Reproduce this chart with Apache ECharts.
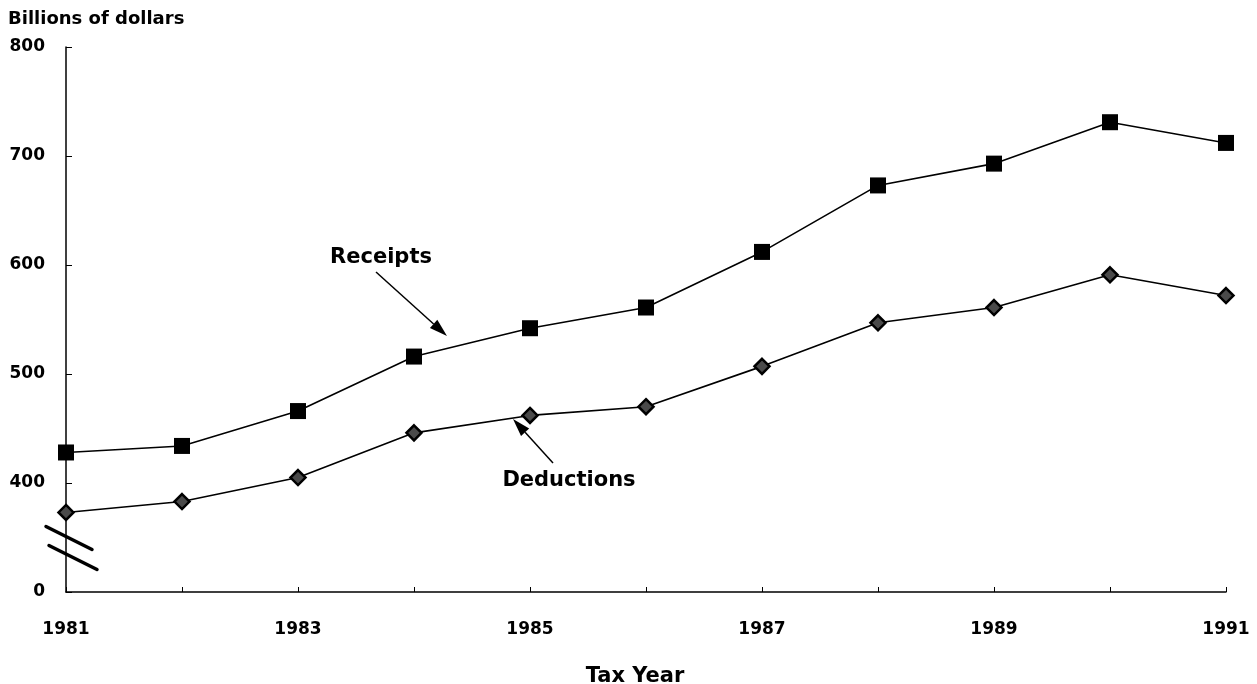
<!DOCTYPE html>
<html>
<head>
<meta charset="utf-8">
<script src="https://cdn.jsdelivr.net/npm/echarts@6/dist/echarts.min.js"></script>
<style>
  html, body { margin: 0; padding: 0; background: #fff; }
  #chart { width: 1257px; height: 684px; }
</style>
</head>
<body>
<div id="chart"></div>
<script>
// tax years on the x axis
var years = ['1981', '1982', '1983', '1984', '1985', '1986', '1987', '1988', '1989', '1990', '1991'];
// billions of dollars
var receipts = [428, 434, 466, 516, 542, 561, 612, 673, 693, 731, 712];
var deductions = [373, 383, 405, 446, 462, 470, 507, 547, 561, 591, 572];
// y scale is broken: the bottom tick stands for 0
var yTicks = [300, 400, 500, 600, 700, 800];
var yTickLabels = ['0', '400', '500', '600', '700', '800'];

var FONT = 'DejaVu Sans';
var myChart = echarts.init(document.getElementById('chart'));

function arrow(x1, y1, x2, y2, headLen, headW) {
    var dx = x2 - x1, dy = y2 - y1;
    var len = Math.sqrt(dx * dx + dy * dy);
    var ux = dx / len, uy = dy / len;
    var bx = x2 - ux * headLen, by = y2 - uy * headLen;
    return [
        {
            type: 'line',
            shape: { x1: x1, y1: y1, x2: bx, y2: by },
            style: { stroke: '#000', lineWidth: 1.5 }
        },
        {
            type: 'polygon',
            shape: {
                points: [
                    [x2, y2],
                    [bx - uy * headW / 2, by + ux * headW / 2],
                    [bx + uy * headW / 2, by - ux * headW / 2]
                ]
            },
            style: { fill: '#000' }
        }
    ];
}

var option = {
    backgroundColor: '#fff',
    animation: false,
    grid: { left: 66, right: 31, top: 47, bottom: 92, outerBoundsMode: 'none', containLabel: false },
    xAxis: {
        type: 'category',
        data: years,
        boundaryGap: false,
        name: 'Tax Year',
        nameLocation: 'middle',
        nameGap: 74,
        nameTextStyle: { fontFamily: FONT, fontWeight: 'bold', fontSize: 21, color: '#000', padding: [0, 22, 0, 0] },
        axisLine: { lineStyle: { color: '#000', width: 1.5 } },
        axisTick: { inside: true, length: 5, interval: 0, lineStyle: { color: '#000' } },
        axisLabel: {
            interval: 1,
            margin: 29,
            fontFamily: FONT, fontWeight: 'bold', fontSize: 17, color: '#000'
        },
        splitLine: { show: false }
    },
    yAxis: {
        type: 'value',
        min: 300,
        max: 800,
        interval: 100,
        axisLine: { show: true, lineStyle: { color: '#000', width: 1.5 } },
        axisTick: { show: true, inside: true, length: 6, lineStyle: { color: '#000' } },
        axisLabel: {
            margin: 21,
            fontFamily: FONT, fontWeight: 'bold', fontSize: 17, color: '#000',
            formatter: function (v) {
                var i = yTicks.indexOf(v);
                return i >= 0 ? yTickLabels[i] : '';
            }
        },
        splitLine: { show: false }
    },
    series: [
        {
            name: 'Receipts',
            type: 'line',
            data: receipts,
            symbol: 'rect',
            symbolSize: 16,
            showAllSymbol: true,
            lineStyle: { color: '#000', width: 1.6 },
            itemStyle: { color: '#000', borderColor: '#000', borderWidth: 0 }
        },
        {
            name: 'Deductions',
            type: 'line',
            data: deductions,
            symbol: 'diamond',
            symbolSize: [15, 15],
            showAllSymbol: true,
            lineStyle: { color: '#000', width: 1.6 },
            itemStyle: { color: '#4a4a4a', borderColor: '#000', borderWidth: 2.5 }
        }
    ]
};
myChart.setOption(option);

// decorations: title, labels with arrows, axis break marks
var ax = myChart.convertToPixel({ xAxisIndex: 0 }, 0);
var breakY = myChart.convertToPixel({ yAxisIndex: 0 }, 350);
var deco = [
    {
        type: 'text', left: 8, top: 10,
        style: { text: 'Billions of dollars', fontFamily: FONT, fontWeight: 'bold', fontSize: 18, fill: '#000' }
    },
    {
        type: 'text', x: 381, y: 258,
        style: { text: 'Receipts', fontFamily: FONT, fontWeight: 'bold', fontSize: 21, fill: '#000', align: 'center', verticalAlign: 'middle' }
    },
    {
        type: 'text', x: 569, y: 481,
        style: { text: 'Deductions', fontFamily: FONT, fontWeight: 'bold', fontSize: 21, fill: '#000', align: 'center', verticalAlign: 'middle' }
    },
    {
        type: 'line',
        shape: { x1: ax - 20, y1: breakY - 11, x2: ax + 26, y2: breakY + 12 },
        style: { stroke: '#000', lineWidth: 3.5, lineCap: 'round' }
    },
    {
        type: 'line',
        shape: { x1: ax - 17, y1: breakY + 8, x2: ax + 31, y2: breakY + 32 },
        style: { stroke: '#000', lineWidth: 3.5, lineCap: 'round' }
    }
];
deco = deco.concat(arrow(376, 272, 447, 336, 18, 11));
deco = deco.concat(arrow(553, 463, 513, 419, 18, 11));
myChart.setOption({ graphic: deco });
</script>
</body>
</html>
